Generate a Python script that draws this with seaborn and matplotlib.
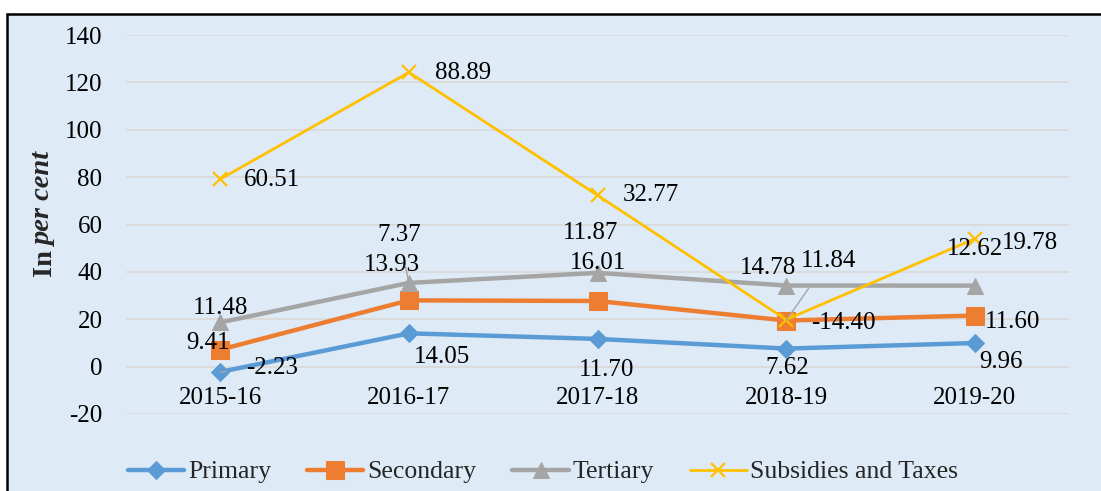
import pandas as pd
import seaborn as sns
import matplotlib.pyplot as plt
from matplotlib.patches import Rectangle

# sector-wise growth (in per cent), drawn as a stacked line chart
years = ['2015-16', '2016-17', '2017-18', '2018-19', '2019-20']
primary = [-2.23, 14.05, 11.70, 7.62, 9.96]
secondary = [9.41, 13.93, 16.01, 11.84, 11.60]
tertiary = [11.48, 7.37, 11.87, 14.78, 12.62]
subsidies = [60.51, 88.89, 32.77, -14.40, 19.78]
series_names = ['Primary', 'Secondary', 'Tertiary', 'Subsidies and Taxes']

df = pd.DataFrame({'Year': years, 'Primary': primary, 'Secondary': secondary,
                   'Tertiary': tertiary, 'Subsidies and Taxes': subsidies})
stack = df[series_names].cumsum(axis=1)
stack['Year'] = years
long = stack.melt(id_vars='Year', var_name='Sector', value_name='Stacked')
long['Label'] = df.melt(id_vars='Year', var_name='Sector', value_name='v')['v'].values

sns.set_style("whitegrid")
plt.rcParams['font.family'] = ['Liberation Serif', 'DejaVu Serif']
plt.rcParams['axes.unicode_minus'] = False

bg = '#DEEAF6'
fig = plt.figure(figsize=(11.01, 4.91), dpi=100)
fig.patch.set_facecolor('white')
fig.patches.append(Rectangle((7 / 1101, -0.1), 1.2, 1 - 14 / 491 + 0.1,
                             transform=fig.transFigure, facecolor=bg,
                             edgecolor='black', linewidth=1.8, zorder=-5))
ax = fig.add_axes([126 / 1101, 1 - 414 / 491, (1069 - 126) / 1101, (414 - 35) / 491])
ax.set_facecolor(bg)

styles = {
    'Primary': dict(color='#5B9BD5', marker='D', markersize=9.5, linewidth=3.2),
    'Secondary': dict(color='#ED7D31', marker='s', markersize=13, linewidth=3.2),
    'Tertiary': dict(color='#A5A5A5', marker='^', markersize=12, linewidth=3.2),
    'Subsidies and Taxes': dict(color='#FFC000', marker='x', markersize=10,
                                markeredgewidth=1.6, linewidth=2.0),
}
for name in series_names:
    sub = long[long['Sector'] == name]
    sns.lineplot(data=sub, x='Year', y='Stacked', ax=ax, label=name,
                 markeredgecolor=styles[name]['color'], **styles[name])

# label offsets in pixels (dx, dy) for each series / year
offsets = {
    'Primary': [(52, 4), (33, -24), (9, -31), (1, -19), (26, -19)],
    'Secondary': [(-12, 7), (-17, 35), (0, 38), (42, 60), (38, -6)],
    'Tertiary': [(0, 14), (-10, 48), (-7, 40), (-18, 18), (0, 37)],
    'Subsidies and Taxes': [(52, -1), (54, -1), (53, 0), (57, -3), (55, -4)],
}
leaders = {('Tertiary', 1), ('Secondary', 3), ('Primary', 0)}
for name in series_names:
    sub = long[long['Sector'] == name].reset_index(drop=True)
    for i, row in sub.iterrows():
        dx, dy = offsets[name][i]
        props = None
        if (name, i) in leaders:
            props = dict(arrowstyle='-', color='#A5A5A5', lw=1.0, shrinkA=12, shrinkB=0)
        ax.annotate(f"{row['Label']:.2f}", xy=(i, row['Stacked']),
                    xytext=(dx, dy), textcoords='offset pixels',
                    ha='center', va='center', fontsize=18, color='black',
                    arrowprops=props, zorder=6)

ax.set_xlim(-0.5, 4.5)
ax.set_ylim(-20, 140)
ax.set_yticks(range(-20, 141, 20))
ax.grid(axis='y', color='#D9D9D9', linewidth=1.2)
ax.grid(axis='x', visible=False)
for s in ['top', 'right', 'left']:
    ax.spines[s].set_visible(False)
ax.spines['bottom'].set_position(('data', 0))
ax.spines['bottom'].set_visible(False)
ax.tick_params(axis='x', length=0, pad=15, labelsize=18, colors='black')
ax.tick_params(axis='y', length=0, pad=17, labelsize=18, colors='black')
ax.set_xlabel('')
ax.set_ylabel('')

fig.text(45 / 1101, 1 - 276 / 491, 'In', rotation=90, ha='center', va='bottom',
         fontsize=20.5, fontweight='bold')
fig.text(45 / 1101, 1 - 247 / 491, 'per cent', rotation=90, ha='center', va='bottom',
         fontsize=20.5, fontweight='bold', fontstyle='italic')

handles, labels = ax.get_legend_handles_labels()
ax.get_legend().remove()
fig.legend(handles, labels, loc='center', bbox_to_anchor=(543 / 1101, 1 - 472 / 491),
           ncol=4, frameon=False, fontsize=18.5, handlelength=2.2,
           handletextpad=0.15, columnspacing=1.4)

fig.savefig('out.png', dpi=100, facecolor='white')
